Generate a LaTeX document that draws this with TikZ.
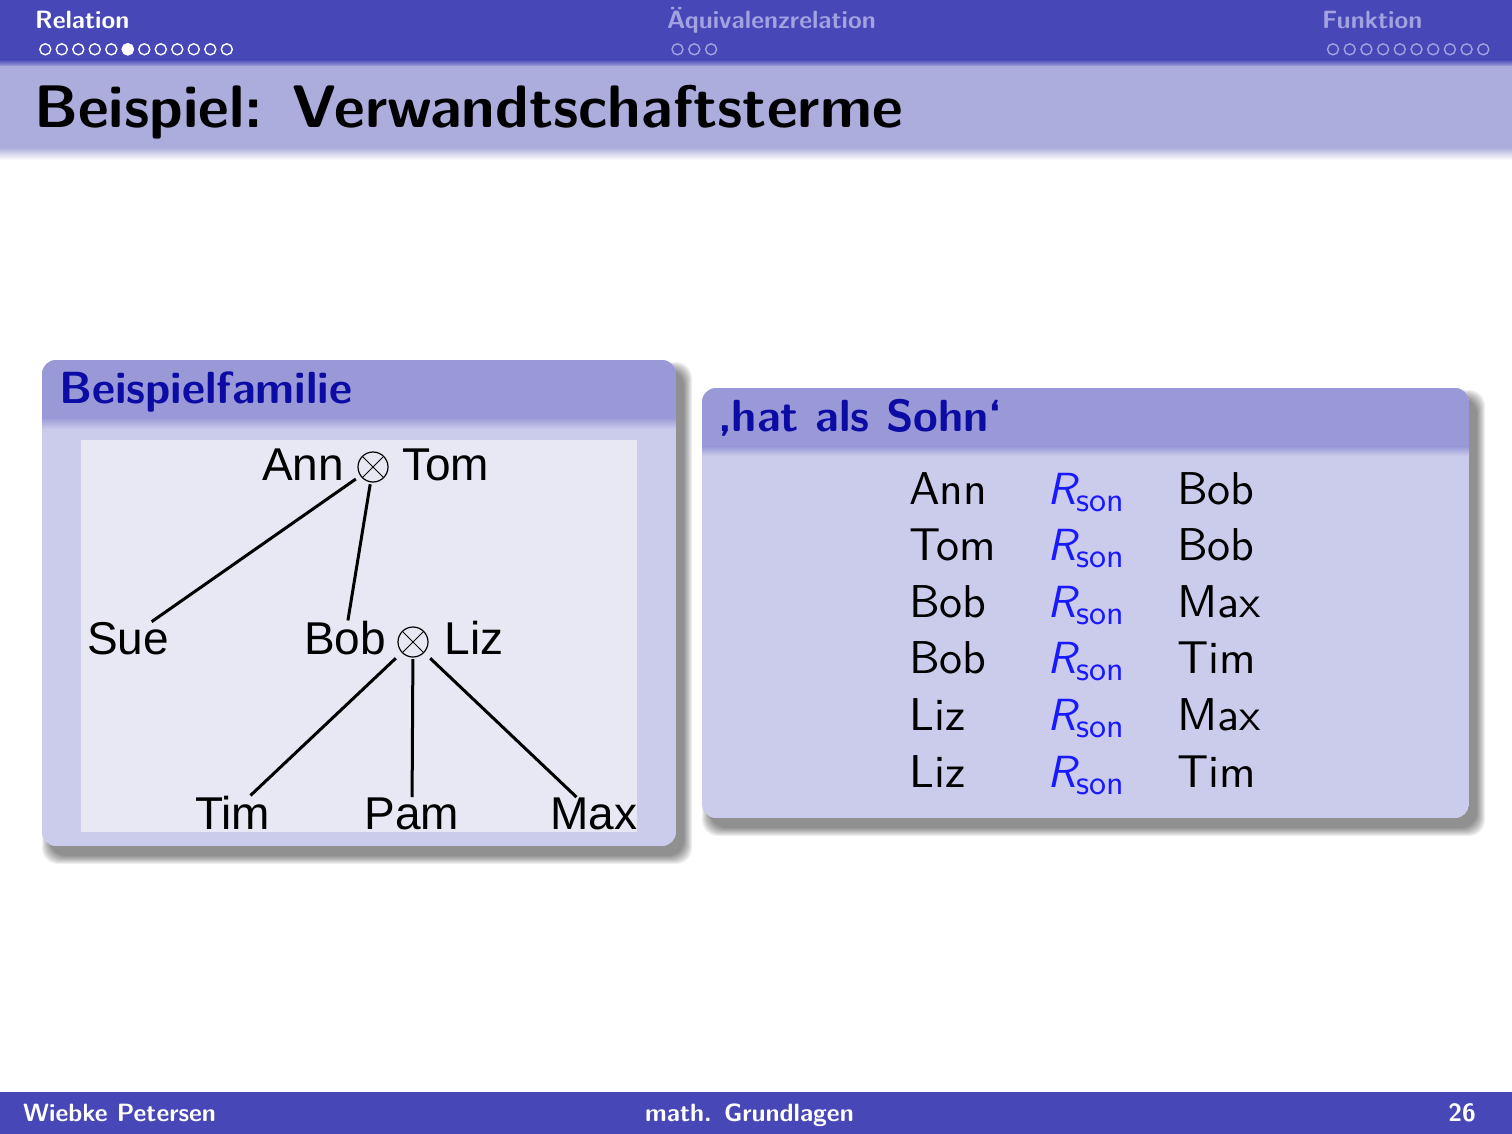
\documentclass[tikz,border=0pt]{standalone}
\usepackage{fontspec}
\usetikzlibrary{calc}
% sans text in the 10pt design of Latin Modern Sans at every size
\setsansfont{lmsans10-regular.otf}[
  BoldFont=lmsans10-bold.otf,
  ItalicFont=lmsans10-oblique.otf,
  BoldItalicFont=lmsans10-boldoblique.otf]
\newfontfamily\treefont{Liberation Sans}

\definecolor{barblue}{RGB}{71,71,184}
\definecolor{titlebg}{RGB}{173,173,221}
\definecolor{blocktitle}{RGB}{153,153,216}
\definecolor{blockbody}{RGB}{203,203,235}
\definecolor{treebg}{RGB}{232,232,244}
\definecolor{blocktext}{RGB}{12,12,165}
\definecolor{inactive}{RGB}{162,162,224}
\definecolor{relblue}{RGB}{25,25,255}

\newcommand\rson{\textcolor{relblue}{{\fontsize{45}{50}\selectfont\itshape R}\raisebox{-7pt}{\fontsize{34}{40}\selectfont son}}}

\tikzset{
  hdrtext/.style={font=\sffamily\bfseries\fontsize{25}{30}\selectfont, anchor=base west, inner sep=0},
  navdot/.style={circle, draw=#1, line width=1.4, minimum size=11, inner sep=0},
  foottext/.style={font=\sffamily\bfseries\fontsize{25}{29}\selectfont, text=white, inner sep=0},
  frametitle/.style={font=\sffamily\bfseries\fontsize{60}{70}\selectfont, anchor=base west, inner sep=0},
  blockhead/.style={font=\sffamily\bfseries\fontsize{45}{52}\selectfont, text=blocktext, anchor=base west, inner sep=0},
  treename/.style={font=\treefont\fontsize{46}{52}\selectfont, anchor=base west, inner sep=0},
  couple/.style={rectangle, inner sep=0, minimum size=34,
    path picture={
      \draw[line width=1.2] (path picture bounding box.center) circle[radius=15];
      \draw[line width=1.0] ($(path picture bounding box.center)+(-10.6,-10.6)$) -- ++(21.2,21.2);
      \draw[line width=1.0] ($(path picture bounding box.center)+(-10.6,10.6)$) -- ++(21.2,-21.2);
    }},
  link/.style={line width=3, black},
  tbl/.style={font=\sffamily\fontsize{46}{52}\selectfont, anchor=base west, inner sep=0},
}

% soft drop shadow behind a block: #1,#2 upper left, #3,#4 lower right
\newcommand\blockshadow[4]{%
  \foreach \g in {0,...,8}{%
    \fill[black, opacity=0.06, rounded corners=16]
      (#1+8-\g, #2+10-\g) rectangle (#3+8+\g, #4+10+\g);
  }%
}

\begin{document}
\begin{tikzpicture}[x=1pt, y=-1pt]
\useasboundingbox (0,0) rectangle (1512,1134);
\fill[white] (0,0) rectangle (1512,1134);

% ---- head line with section navigation
\fill[barblue] (0,0) rectangle (1512,60);
\shade[top color=barblue, bottom color=titlebg] (0,59.5) rectangle (1512,67);
\fill[titlebg] (0,66.5) rectangle (1512,148);
\shade[top color=titlebg, bottom color=white] (0,147.5) rectangle (1512,160);

\node[hdrtext, text=white] (secA) at (35,29) {Relation};
\node[hdrtext, text=inactive] (secB) at (667,29) {Äquivalenzrelation};
\node[hdrtext, text=inactive] (secC) at (1322,29) {Funktion};

\foreach \i in {0,...,11}
  \node[navdot=white] (navA\i) at (45.3+16.5*\i, 49.3) {};
\node[navdot=white, fill=white] (navAcur) at (45.3+16.5*5, 49.3) {};
\foreach \i in {0,...,2}
  \node[navdot=inactive] (navB\i) at (677.5+16.8*\i, 49.3) {};
\foreach \i in {0,...,9}
  \node[navdot=inactive] (navC\i) at (1333+16.7*\i, 49.3) {};

% ---- frame title
\node[frametitle] (ftitle) at (34,127.5) {Beispiel: Verwandtschaftsterme};

% ---- left block: family tree
\blockshadow{42}{360}{676}{846}
\begin{scope}
  \clip[rounded corners=14] (42,360) rectangle (676,846);
  \fill[blockbody] (42,360) rectangle (676,846);
  \fill[blocktitle] (42,360) rectangle (676,418);
  \shade[top color=blocktitle, bottom color=blockbody] (42,417.5) rectangle (676,429);
\end{scope}
\node[blockhead] (famtitle) at (59,403) {Beispielfamilie};
\fill[treebg] (81,440) rectangle (637,832);

\node[treename] (ann) at (262,480) {Ann};
\node[couple] (m1) at (373,467) {};
\node[treename] (tom) at (402,480) {Tom};
\node[treename] (sue) at (87,654) {Sue};
\node[treename] (bob) at (304,654) {Bob};
\node[couple] (m2) at (413,642) {};
\node[treename] (liz) at (444.5,654) {Liz};
\node[treename] (tim) at (195,829) {Tim};
\node[treename] (pam) at (364.5,829) {Pam};
\node[treename] (max) at (550,829) {Max};

\draw[link] (m1) -- (sue);
\draw[link] (m1) -- (bob);
\draw[link] (m2) -- (tim);
\draw[link] (m2) -- (pam);
\draw[link] (m2) -- (max);

% ---- right block: relation pairs
\blockshadow{702}{388}{1469}{818}
\begin{scope}
  \clip[rounded corners=14] (702,388) rectangle (1469,818);
  \fill[blockbody] (702,388) rectangle (1469,818);
  \fill[blocktitle] (702,388) rectangle (1469,447);
  \shade[top color=blocktitle, bottom color=blockbody] (702,446.5) rectangle (1469,456);
\end{scope}
\node[blockhead] (reltitle) at (718,431.5) {‚hat als Sohn‘};

\foreach \lhs/\rhs [count=\i] in {Ann/Bob, Tom/Bob, Bob/Max, Bob/Tim, Liz/Max, Liz/Tim}{
  \pgfmathsetmacro\yy{504+56.6*(\i-1)}
  \node[tbl] (p\i) at (909,\yy) {\lhs};
  \node[tbl] (r\i) at (1047,\yy) {\rson};
  \node[tbl] (c\i) at (1177,\yy) {\rhs};
}

% ---- foot line
\fill[barblue] (0,1092) rectangle (1512,1134);
\node[foottext, anchor=base west] (author) at (23,1121) {Wiebke Petersen};
\node[foottext, anchor=base] (course) at (749.5,1121) {math. Grundlagen};
\node[foottext, anchor=base east] (page) at (1476,1121) {26};
\end{tikzpicture}
\end{document}
